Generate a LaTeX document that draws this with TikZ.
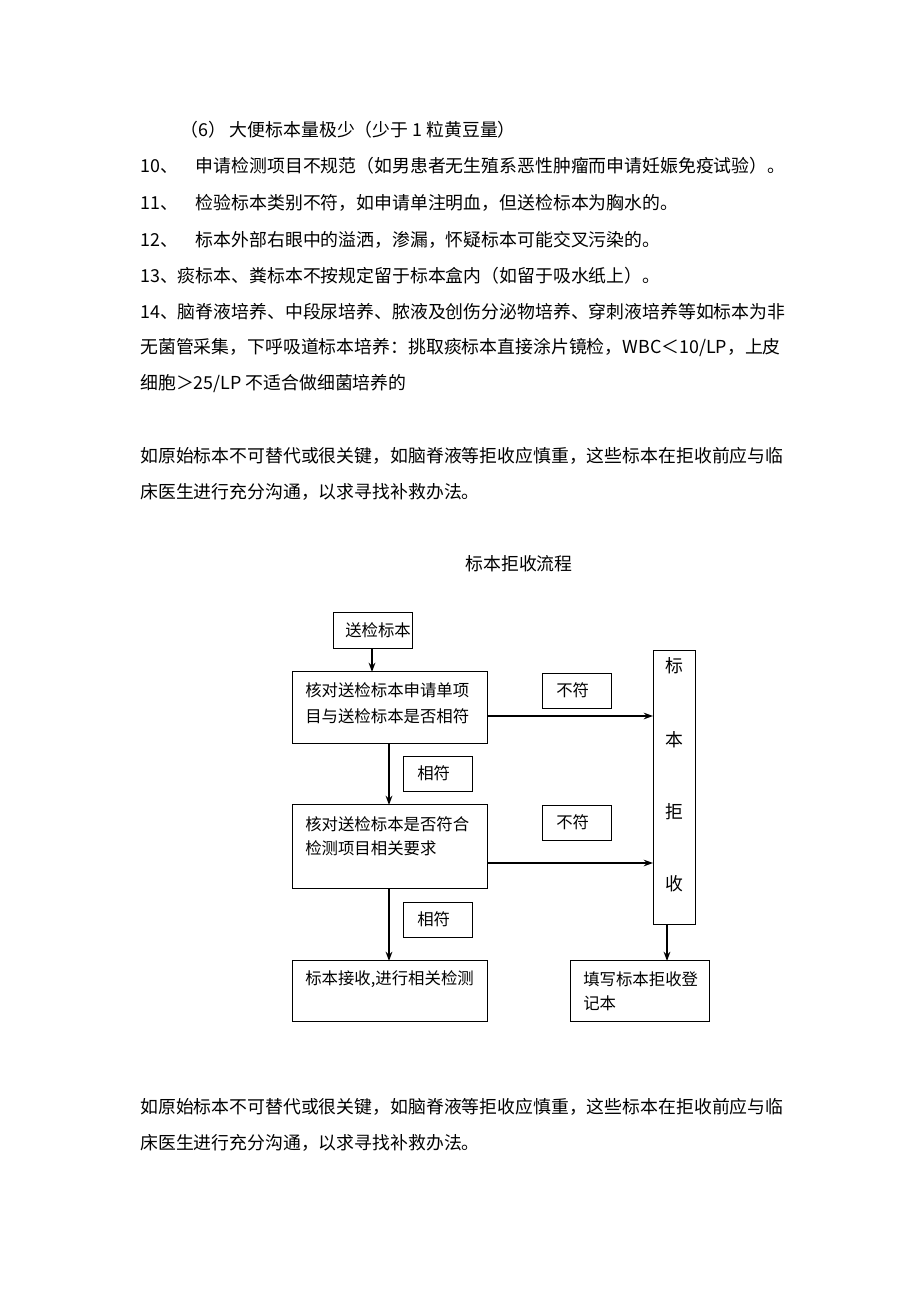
\documentclass[tikz,border=0pt]{standalone}
\usepackage{fontspec}
\setmainfont{Noto Sans CJK SC}
\usetikzlibrary{arrows.meta}
\begin{document}
\begin{tikzpicture}[x=0.75pt,y=-0.75pt,
        font=\fontsize{13.4}{15}\selectfont,
        >={Stealth[length=7pt,width=5pt]}
    ]
    \tikzstyle{line} = [anchor=west, inner sep=0pt]
    \tikzstyle{box} = [draw, thick, anchor=north west, inner sep=0pt]
    \tikzstyle{flow} = [very thick, ->]
    \tikzstyle{small} = [anchor=west, inner sep=0pt, font=\fontsize{12.3}{14}\selectfont]

    \useasboundingbox (0,0) rectangle (920,1302);

    % text above
    \node [line] (l6)  at (180,130) {（6） 大便标本量极少（少于 1 粒黄豆量）};
    \node [line] (l10) at (140,166) {10、\quad 申请检测项目不规范（如男患者无生殖系恶性肿瘤而申请妊娠免疫试验）。};
    \node [line] (l11) at (140,203) {11、\quad 检验标本类别不符，如申请单注明血，但送检标本为胸水的。};
    \node [line] (l12) at (140,240) {12、\quad 标本外部右眼中的溢洒，渗漏，怀疑标本可能交叉污染的。};
    \node [line] (l13) at (140,276) {13、痰标本、粪标本不按规定留于标本盒内（如留于吸水纸上）。};
    \node [line] (l14) at (140,312) {14、脑脊液培养、中段尿培养、脓液及创伤分泌物培养、穿刺液培养等如标本为非};
    \node [line] (l14b) at (140,348) {无菌管采集，下呼吸道标本培养：挑取痰标本直接涂片镜检，WBC＜10/LP，上皮};
    \node [line] (l14c) at (140,384) {细胞＞25/LP 不适合做细菌培养的};
    \node [line] (p1a) at (140,456) {如原始标本不可替代或很关键，如脑脊液等拒收应慎重，这些标本在拒收前应与临};
    \node [line] (p1b) at (140,492) {床医生进行充分沟通，以求寻找补救办法。};
    \node [inner sep=0pt] (title) at (519,564) {标本拒收流程};

    % flow chart
    \node [box, minimum width=79*0.75pt, minimum height=36*0.75pt] (send) at (333,612) {};
    \node [small] at (345,630) {送检标本};
    \node [box, minimum width=195*0.75pt, minimum height=72*0.75pt] (check1) at (292,671) {};
    \node [small] at (305,690) {核对送检标本申请单项};
    \node [small] at (305,716) {目与送检标本是否相符};
    \node [box, minimum width=69*0.75pt, minimum height=35*0.75pt] (no1) at (542,673) {};
    \node [small] at (556,690) {不符};
    \node [box, minimum width=42*0.75pt, minimum height=274*0.75pt] (reject) at (653,650) {};
    \node [inner sep=0pt] at (674,666) {标};
    \node [inner sep=0pt] at (674,740) {本};
    \node [inner sep=0pt] at (674,812) {拒};
    \node [inner sep=0pt] at (674,884) {收};
    \node [box, minimum width=69*0.75pt, minimum height=35*0.75pt] (yes1) at (403,756) {};
    \node [small] at (417,773) {相符};
    \node [box, minimum width=195*0.75pt, minimum height=84*0.75pt] (check2) at (292,804) {};
    \node [small] at (305,824) {核对送检标本是否符合};
    \node [small] at (305,848) {检测项目相关要求};
    \node [box, minimum width=69*0.75pt, minimum height=35*0.75pt] (no2) at (542,805) {};
    \node [small] at (556,822) {不符};
    \node [box, minimum width=69*0.75pt, minimum height=35*0.75pt] (yes2) at (403,902) {};
    \node [small] at (417,919) {相符};
    \node [box, minimum width=195*0.75pt, minimum height=61*0.75pt] (accept) at (292,960) {};
    \node [small] at (305,979) {标本接收,进行相关检测};
    \node [box, minimum width=139*0.75pt, minimum height=61*0.75pt] (record) at (570,960) {};
    \node [small] at (583,979) {填写标本拒收登};
    \node [small] at (583,1003) {记本};

    \draw [flow] (send.south west) ++(39,0) -- ++(0,23);
    \draw [flow] (check1.south west) ++(97,0) -- ++(0,61);
    \draw [flow] (check2.south west) ++(97,0) -- ++(0,72);
    \draw [flow] (487,716) -- (reject.west |- 0,716);
    \draw [flow] (487,863) -- (reject.west |- 0,863);
    \draw [flow] (reject.south west) ++(14,0) -- ++(0,36);

    % text below
    \node [line] (p2a) at (140,1107) {如原始标本不可替代或很关键，如脑脊液等拒收应慎重，这些标本在拒收前应与临};
    \node [line] (p2b) at (140,1143) {床医生进行充分沟通，以求寻找补救办法。};
\end{tikzpicture}
\end{document}
